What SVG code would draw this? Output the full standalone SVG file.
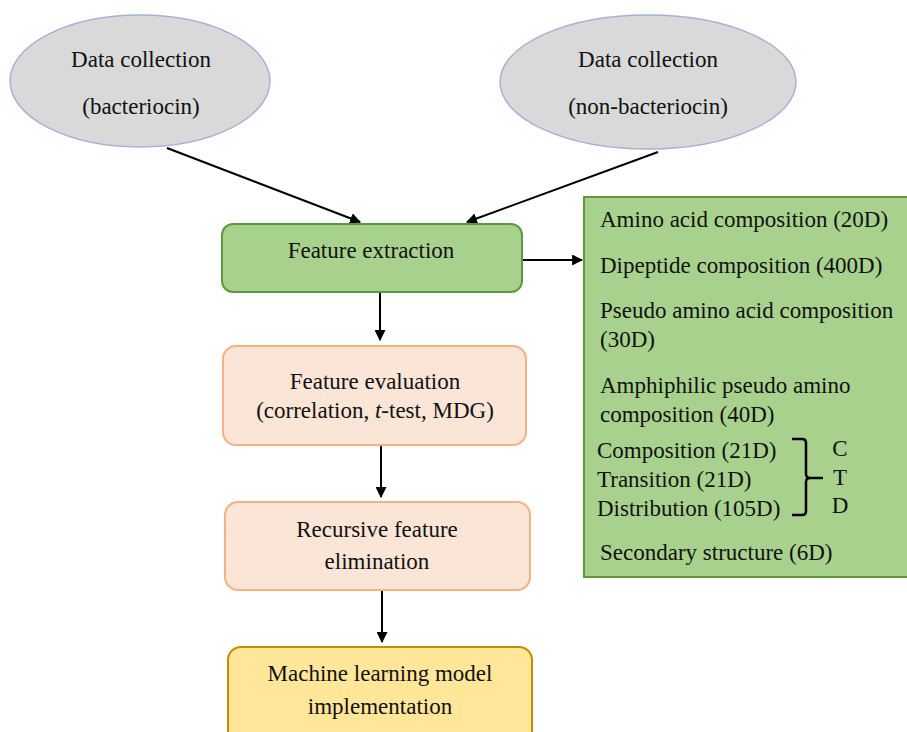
<svg xmlns="http://www.w3.org/2000/svg" width="907" height="732" viewBox="0 0 907 732" font-family="'Liberation Serif', 'DejaVu Serif', serif">
<defs>
<marker id="ah" viewBox="0 0 10 10" refX="9" refY="5" markerWidth="11" markerHeight="11" markerUnits="userSpaceOnUse" orient="auto">
<path d="M0,0 L10,5 L0,10 z" fill="#000"/>
</marker>
</defs>
<style>
text{font-family:'Liberation Serif','DejaVu Serif',serif;font-size:23px;fill:#111}
.c{text-anchor:middle}
.ell{fill:#d9d9d9;stroke:#a3b4d3;stroke-width:1.5}
.green{fill:#a9d18e;stroke:#5e9a3c;stroke-width:2}
.peach{fill:#fbe5d6;stroke:#f4b183;stroke-width:2}
.yellow{fill:#ffe699;stroke:#bf9000;stroke-width:2}
.con{stroke:#000;stroke-width:2;fill:none;marker-end:url(#ah)}
</style>
<rect width="907" height="732" fill="#fff"/>
<g id="connectors">
<line class="con" x1="167" y1="148" x2="360" y2="222"/>
<line class="con" x1="658" y1="152" x2="467" y2="222"/>
<line class="con" x1="522" y1="260" x2="582" y2="260"/>
<line class="con" x1="380" y1="293" x2="380" y2="340"/>
<line class="con" x1="381" y1="445" x2="381" y2="497"/>
<line class="con" x1="382" y1="590" x2="382" y2="642"/>
</g>
<g id="n_bact">
<ellipse class="ell" cx="140" cy="81" rx="130" ry="66"/>
<text class="c" x="141" y="67">Data collection</text>
<text class="c" x="141" y="114">(bacteriocin)</text>
</g>
<g id="n_nonbact">
<ellipse class="ell" cx="648" cy="82" rx="148" ry="67"/>
<text class="c" x="648" y="67">Data collection</text>
<text class="c" x="648" y="114">(non-bacteriocin)</text>
</g>
<g id="n_extract">
<rect class="green" x="222" y="224" width="300" height="68" rx="11"/>
<text class="c" x="371" y="258">Feature extraction</text>
</g>
<g id="n_features">
<rect class="green" x="584" y="197" width="340" height="380"/>
<text x="600" y="227">Amino acid composition (20D)</text>
<text x="600" y="273">Dipeptide composition (400D)</text>
<text x="600" y="318">Pseudo amino acid composition</text>
<text x="600" y="347">(30D)</text>
<text x="600" y="393">Amphiphilic pseudo amino</text>
<text x="600" y="422">composition (40D)</text>
<text x="597" y="458">Composition (21D)</text>
<text x="597" y="487">Transition (21D)</text>
<text x="597" y="516">Distribution (105D)</text>
<text x="600" y="560">Secondary structure (6D)</text>
<path d="M792,439 H802 Q806,439 806,443 V474 Q806,478 810,478 H823 M810,478 Q806,478 806,482 V511 Q806,515 802,515 H792" fill="none" stroke="#000" stroke-width="2.5"/>
<text class="c" x="840" y="456">C</text>
<text class="c" x="840" y="485">T</text>
<text class="c" x="840" y="513">D</text>
</g>
<g id="n_eval">
<rect class="peach" x="223" y="346" width="303" height="99" rx="13"/>
<text class="c" x="375" y="389">Feature evaluation</text>
<text class="c" x="375" y="418">(correlation, <tspan font-style="italic">t</tspan>-test, MDG)</text>
</g>
<g id="n_rfe">
<rect class="peach" x="225" y="502" width="305" height="88" rx="13"/>
<text class="c" x="377" y="537">Recursive feature</text>
<text class="c" x="377" y="569">elimination</text>
</g>
<g id="n_ml">
<rect class="yellow" x="228" y="647" width="304" height="100" rx="13"/>
<text class="c" x="380" y="681">Machine learning model</text>
<text class="c" x="380" y="714">implementation</text>
</g>
</svg>
